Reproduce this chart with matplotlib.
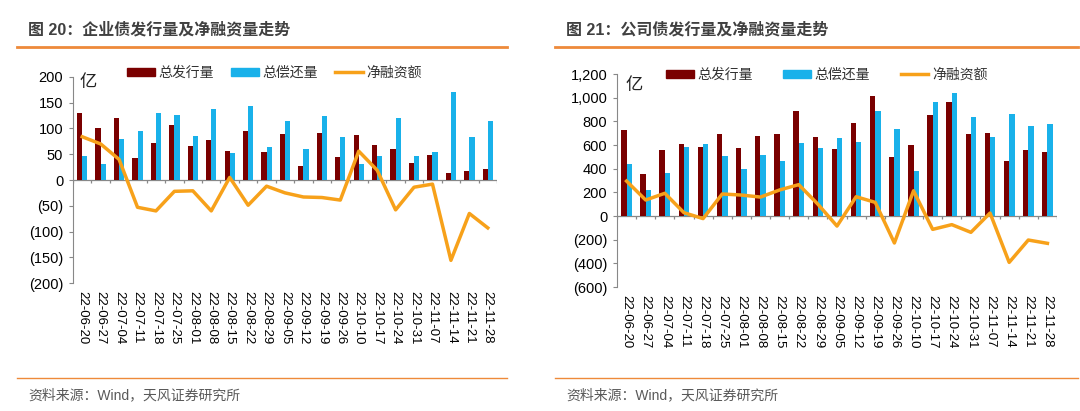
import matplotlib
matplotlib.use("Agg")
import matplotlib.pyplot as plt
from matplotlib.lines import Line2D
import numpy as np

plt.rcParams["font.family"] = ["Liberation Sans", "Noto Sans CJK SC", "DejaVu Sans"]

# ---------------- data ----------------
dates = ["22-06-20", "22-06-27", "22-07-04", "22-07-11", "22-07-18", "22-07-25",
         "22-08-01", "22-08-08", "22-08-15", "22-08-22", "22-08-29", "22-09-05",
         "22-09-12", "22-09-19", "22-09-26", "22-10-10", "22-10-17", "22-10-24",
         "22-10-31", "22-11-07", "22-11-14", "22-11-21", "22-11-28"]

# 图20 企业债
ent_issue = [130, 100, 120, 42, 71, 106, 66, 77, 57, 96, 54, 89,
             27, 92, 45, 87, 67, 61, 33, 48, 14, 18, 22]
ent_repay = [46, 31, 80, 95, 131, 127, 85, 137, 53, 144, 65, 114,
             60, 125, 84, 31, 47, 120, 46, 55, 170, 83, 114]
ent_net = [84, 70, 40, -53, -60, -22, -21, -60, 5, -49, -12, -25,
           -33, -34, -39, 56, 19, -58, -14, -8, -156, -65, -93]

# 图21 公司债
corp_issue = [727, 352, 555, 606, 586, 696, 575, 673, 693, 890, 665, 563,
              789, 1012, 501, 597, 851, 966, 693, 699, 468, 558, 544]
corp_repay = [437, 220, 360, 580, 608, 507, 394, 513, 468, 620, 575, 656,
              625, 890, 732, 380, 963, 1039, 834, 670, 862, 761, 775]
corp_net = [295, 135, 192, 28, -22, 186, 177, 160, 220, 265, 100, -85,
            163, 115, -228, 213, -113, -73, -138, 25, -392, -203, -231]

DARK = "#7A0000"
BLUE = "#19B1EA"
ORANGE = "#F7A11A"
RULE = "#EE8A3A"
TXT = "#404040"


def fmt(v, comma=False):
    s = f"{abs(int(v)):,}" if comma else f"{abs(int(v))}"
    return f"({s})" if v < 0 else s


def draw(fig, rect, issue, repay, net, ylim, step, comma, leg_x, leg_y, colsp, unit_xy):
    ax = fig.add_axes(rect)
    x = np.arange(len(dates))
    w = 0.28
    ax.bar(x - w / 2, issue, w, color=DARK, zorder=2)
    ax.bar(x + w / 2, repay, w, color=BLUE, zorder=2)
    ax.plot(x, net, color=ORANGE, lw=2.5, zorder=3)

    ax.set_xlim(-0.5, len(dates) - 0.5)
    ax.set_ylim(*ylim)
    ticks = np.arange(ylim[0], ylim[1] + step, step)
    ax.set_yticks(ticks)
    ax.set_yticklabels([fmt(t, comma) for t in ticks], fontsize=10.5)
    ax.set_xticks(x)
    ax.set_xticklabels(dates, rotation=270, fontsize=9.5)
    ax.tick_params(axis="x", length=0, pad=6)
    ax.tick_params(axis="y", length=3, color="#888888", pad=4)

    for s in ("top", "right", "bottom"):
        ax.spines[s].set_visible(False)
    ax.spines["left"].set_color("#888888")

    # category axis at zero with boundary ticks
    ax.axhline(0, color="#888888", lw=0.9, zorder=1)
    tick_len = (ylim[1] - ylim[0]) * 0.015
    ax.vlines(np.arange(len(dates) + 1) - 0.5, -tick_len, 0, color="#888888", lw=0.9)

    ax.text(unit_xy[0], unit_xy[1], "亿", transform=ax.transAxes, fontsize=12.5,
            color="#222222", ha="left", va="center")

    handles = [plt.Rectangle((0, 0), 1, 1, color=DARK),
               plt.Rectangle((0, 0), 1, 1, color=BLUE),
               Line2D([0], [0], color=ORANGE, lw=2.5)]
    fig.legend(handles, ["总发行量", "总偿还量", "净融资额"], ncol=3, frameon=False,
               loc="center left", bbox_to_anchor=(leg_x, leg_y),
               fontsize=10, handlelength=2.0, handleheight=0.55, columnspacing=colsp,
               handletextpad=0.25, labelcolor="#333333", borderpad=0, borderaxespad=0)
    return ax


fig = plt.figure(figsize=(10.8, 4.11), dpi=100)
fig.patch.set_facecolor("white")

draw(fig, [73 / 1080, 1 - 283 / 411, 424 / 1080, 206 / 411],
     ent_issue, ent_repay, ent_net, (-200, 200), 50, False,
     127 / 1080, 1 - 73 / 411, 1.25, (0.015, 0.975))
draw(fig, [617 / 1080, 1 - 287 / 411, 440 / 1080, 213 / 411],
     corp_issue, corp_repay, corp_net, (-600, 1200), 200, True,
     666 / 1080, 1 - 75 / 411, 2.2, (0.02, 0.95))

# titles, rules, source
for x0, x1, tx, title in [(17, 507, 28, "图 20：企业债发行量及净融资量走势"),
                          (555, 1078, 566, "图 21：公司债发行量及净融资量走势")]:
    fig.text(tx / 1080, 1 - 30 / 411, title, fontsize=11.5, fontweight="bold",
             color=TXT, ha="left", va="center")
    fig.add_artist(Line2D([x0 / 1080, x1 / 1080], [1 - 47 / 411] * 2, color=RULE, lw=2))
    fig.add_artist(Line2D([x0 / 1080, x1 / 1080], [1 - 378 / 411] * 2, color=RULE, lw=1))
    fig.text(tx / 1080, 1 - 395 / 411, "资料来源：Wind，天风证券研究所", fontsize=10,
             color="#595959", ha="left", va="center")

fig.savefig("out.png", dpi=100, facecolor="white")
